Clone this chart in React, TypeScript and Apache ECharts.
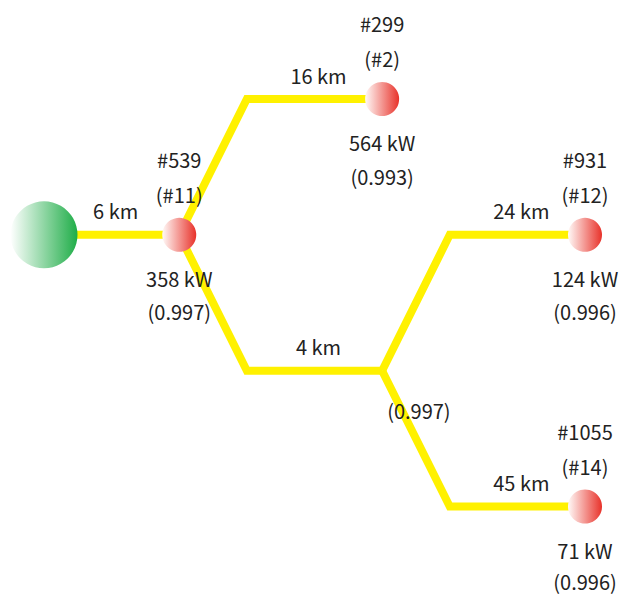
import React, { useEffect, useRef } from 'react';
import * as echarts from 'echarts';

// ---- data ----
const nodeIds = ['#539', '#299', '#931', '#1055'];
const nodeRefs = ['(#11)', '(#2)', '(#12)', '(#14)'];
const nodeLoadKW = [358, 564, 124, 71];
const nodePF = [0.997, 0.993, 0.996, 0.996];
const nodeCol = [2, 5, 8, 8];
const nodeRow = [1, 0, 1, 3];

const sourceCol = 0;
const sourceRow = 1;

const junctionCol = 5;
const junctionRow = 2;
const junctionPF = 0.997;

const branchFrom = ['source', '#539', '#539', 'junction', 'junction'];
const branchTo = ['#539', '#299', 'junction', '#931', '#1055'];
const branchKm = [6, 16, 4, 24, 45];

const FONT = "'Noto Sans CJK JP', 'Noto Sans', sans-serif";
const TEXT_COLOR = '#222222';
const LINE_COLOR = '#fff100';

function posOf(name: string): [number, number] {
  if (name === 'source') return [sourceCol, sourceRow];
  if (name === 'junction') return [junctionCol, junctionRow];
  const i = nodeIds.indexOf(name);
  return [nodeCol[i], nodeRow[i]];
}

const textStyle = {
  color: TEXT_COLOR,
  fontFamily: FONT,
  fontSize: 20,
  lineHeight: 20,
};

function labelSeries(data: any[], position: string, distance: number, symbolSize = 34, offset = [0, 0]) {
  return {
    type: 'scatter',
    data,
    clip: false,
    silent: true,
    z: 4,
    symbolSize,
    itemStyle: { color: 'rgba(0,0,0,0)', opacity: 1 },
    label: { show: true, position, distance, offset, ...textStyle },
    emphasis: { disabled: true },
  };
}

function buildOption() {
  const lineSeries: any[] = [];
  const edgeLabels: any[] = [];
  branchFrom.forEach((from, i) => {
    const [c0, r0] = posOf(from);
    const [c1, r1] = posOf(branchTo[i]);
    let pts: number[][];
    let hs: number;
    if (r0 === r1) {
      pts = [[c0, r0], [c1, r1]];
      hs = c0;
    } else {
      pts = [[c0, r0], [c0 + 1, r1], [c1, r1]];
      hs = c0 + 1;
    }
    lineSeries.push({
      type: 'line',
      data: pts,
      showSymbol: false,
      symbol: 'none',
      clip: false,
      silent: true,
      z: 1,
      lineStyle: { color: LINE_COLOR, width: 8, join: 'miter', cap: 'butt', opacity: 1 },
      emphasis: { disabled: true },
    });
    edgeLabels.push({
      value: [(hs + c1) / 2, r1],
      label: { formatter: `${branchKm[i]} km` },
    });
  });

  const redGrad = new echarts.graphic.LinearGradient(0, 0, 1, 0, [
    { offset: 0, color: '#fffaf8' },
    { offset: 1, color: '#e8322a' },
  ]);
  const greenGrad = new echarts.graphic.LinearGradient(0, 0, 1, 0, [
    { offset: 0, color: '#ffffff' },
    { offset: 1, color: '#1fad48' },
  ]);

  const nodeData: any[] = [
    { value: [sourceCol, sourceRow], symbolSize: 67, itemStyle: { color: greenGrad, opacity: 1 } },
  ];
  const idData: any[] = [];
  const refData: any[] = [];
  const kwData: any[] = [];
  const pfData: any[] = [];
  nodeIds.forEach((id, i) => {
    const v = [nodeCol[i], nodeRow[i]];
    nodeData.push({ value: v, symbolSize: 34, itemStyle: { color: redGrad, opacity: 1 } });
    idData.push({ value: v, label: { formatter: id } });
    refData.push({ value: v, label: { formatter: nodeRefs[i] } });
    kwData.push({ value: v, label: { formatter: `${nodeLoadKW[i]} kW` } });
    pfData.push({
      value: v,
      label: { formatter: `(${nodePF[i].toFixed(3)})`, distance: nodeRow[i] === 3 ? 47.5 : 50 },
    });
  });
  refData.push({
    value: [junctionCol, junctionRow],
    symbolSize: 0,
    label: {
      formatter: `(${junctionPF.toFixed(3)})`,
      position: [5, 30],
      align: 'left',
      verticalAlign: 'top',
    },
  });

  return {
    animation: false,
    backgroundColor: '#ffffff',
    grid: { left: 44, right: 47, top: 99, bottom: 87.5, containLabel: false },
    xAxis: { type: 'value', min: 0, max: 8, show: false },
    yAxis: { type: 'value', min: 0, max: 3, inverse: true, show: false },
    series: [
      ...lineSeries,
      {
        type: 'scatter',
        data: nodeData,
        clip: false,
        silent: true,
        z: 3,
        label: { show: false },
        emphasis: { disabled: true },
      },
      labelSeries(idData, 'top', 48.5),
      labelSeries(refData, 'top', 13.5),
      labelSeries(kwData, 'bottom', 16.5),
      labelSeries(pfData, 'bottom', 50),
      labelSeries(edgeLabels, 'top', 14, 0, [4, 0]),
    ],
  };
}

export default function App() {
  const ref = useRef<HTMLDivElement>(null);
  useEffect(() => {
    if (!ref.current) return;
    const chart = echarts.init(ref.current, null, { renderer: 'svg' });
    chart.setOption(buildOption() as any);
    return () => chart.dispose();
  }, []);
  return (
    <div
      ref={ref}
      style={{ position: 'absolute', left: 0, top: 0, width: 632, height: 594 }}
    />
  );
}
